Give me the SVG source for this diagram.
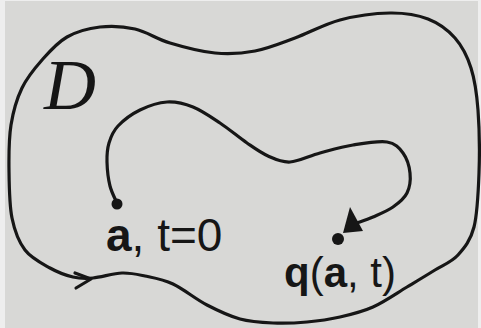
<svg xmlns="http://www.w3.org/2000/svg" width="481" height="328" viewBox="0 0 481 328">
  <style>
    .ink { fill: none; stroke: #161616; stroke-width: 3.2; stroke-linecap: round; stroke-linejoin: round; }
    .dot { fill: #161616; }
    .lbl { font-family: "Liberation Sans", Arial, sans-serif; fill: #161616; }
    .b { font-weight: bold; }
  </style>
  <rect x="0" y="0" width="481" height="328" fill="#eeeeee"/>
  <rect x="5" y="1" width="473" height="327" fill="#d8d8d6"/>

  <g id="domain">
    <path class="ink" d="M 9,170 C 8.8,154.5 8.8,138.7 11,125 C 13.2,111.3 16.8,98.8 22,88 C 27.2,77.2 34.5,68.5 42,60 C 49.5,51.5 57.3,42.5 67,37 C 76.7,31.5 88.7,28.3 100,27 C 111.3,25.7 123.3,26.3 135,29 C 146.7,31.7 156.7,39 170,43 C 183.3,47 200.8,51.7 215,53 C 229.2,54.3 241.7,53.5 255,51 C 268.3,48.5 280.8,43.2 295,38 C 309.2,32.8 324.2,24.2 340,20 C 355.8,15.8 375.3,13.2 390,13 C 404.7,12.8 417.2,14.8 428,19 C 438.8,23.2 447.8,29.8 455,38 C 462.2,46.2 467.2,56 471,68 C 474.8,80 476.7,92.5 478,110 C 479.3,127.5 479.7,153.5 479,173 C 478.3,192.5 477.5,213.3 474,227 C 470.5,240.7 464.5,247.8 458,255 C 451.5,262.2 443.5,264.7 435,270 C 426.5,275.3 417.3,280.8 407,287 C 396.7,293.2 384.2,302 373,307 C 361.8,312 351,314.5 340,317 C 329,319.5 318.2,321 307,322 C 295.8,323 284.2,323.5 273,323 C 261.8,322.5 251,322 240,319 C 229,316 218.2,310.8 207,305 C 195.8,299.2 183.3,288.8 173,284 C 162.7,279.2 153.5,277.8 145,276 C 136.5,274.2 130.7,272.7 122,273 C 113.3,273.3 101.2,277.3 93,278 C 84.8,278.7 80.2,278.7 73,277 C 65.8,275.3 58,272.5 50,268 C 42,263.5 31.3,258.3 25,250 C 18.7,241.7 14.7,231.3 12,218 C 9.3,204.7 9.2,185.5 9,170 Z"/>
    <path class="ink" d="M 75,273 L 91,279 L 76,288"/>
    <text id="label-D" x="44" y="109" font-family="Liberation Serif, serif" font-style="italic" font-size="72" fill="#161616">D</text>
  </g>

  <g id="connectors">
    <path class="ink" d="M 117,203 C 115.8,200.2 111.7,192.8 110,186 C 108.3,179.2 107.2,169.2 107,162 C 106.8,154.8 107.2,149 109,143 C 110.8,137 112.8,131.5 118,126 C 123.2,120.5 131.8,114 140,110 C 148.2,106 158.2,102.5 167,102 C 175.8,101.5 184.2,103.5 193,107 C 201.8,110.5 211,117 220,123 C 229,129 239,137.5 247,143 C 255,148.5 260.8,152.8 268,156 C 275.2,159.2 281.3,162.5 290,162 C 298.7,161.5 309.5,155.8 320,153 C 330.5,150.2 341.8,146.8 353,145 C 364.2,143.2 378.7,140.7 387,142 C 395.3,143.3 399.2,147.8 403,153 C 406.8,158.2 409.3,166.3 410,173 C 410.7,179.7 409.8,187.3 407,193 C 404.2,198.7 398.7,203 393,207 C 387.3,211 379,214.3 373,217 C 367,219.7 359.7,222 357,223"/>
    <polygon class="dot" points="350,207 343,233 363,231"/>
  </g>

  <g id="point-a">
    <circle class="dot" cx="117" cy="204" r="5.5"/>
    <text class="lbl" x="106" y="251" font-size="46"><tspan class="b">a</tspan>, t=0</text>
  </g>

  <g id="point-q">
    <circle class="dot" cx="338" cy="239" r="6"/>
    <text class="lbl" x="284" y="287" font-size="42"><tspan class="b">q</tspan>(<tspan class="b">a</tspan>, t)</text>
  </g>
</svg>
